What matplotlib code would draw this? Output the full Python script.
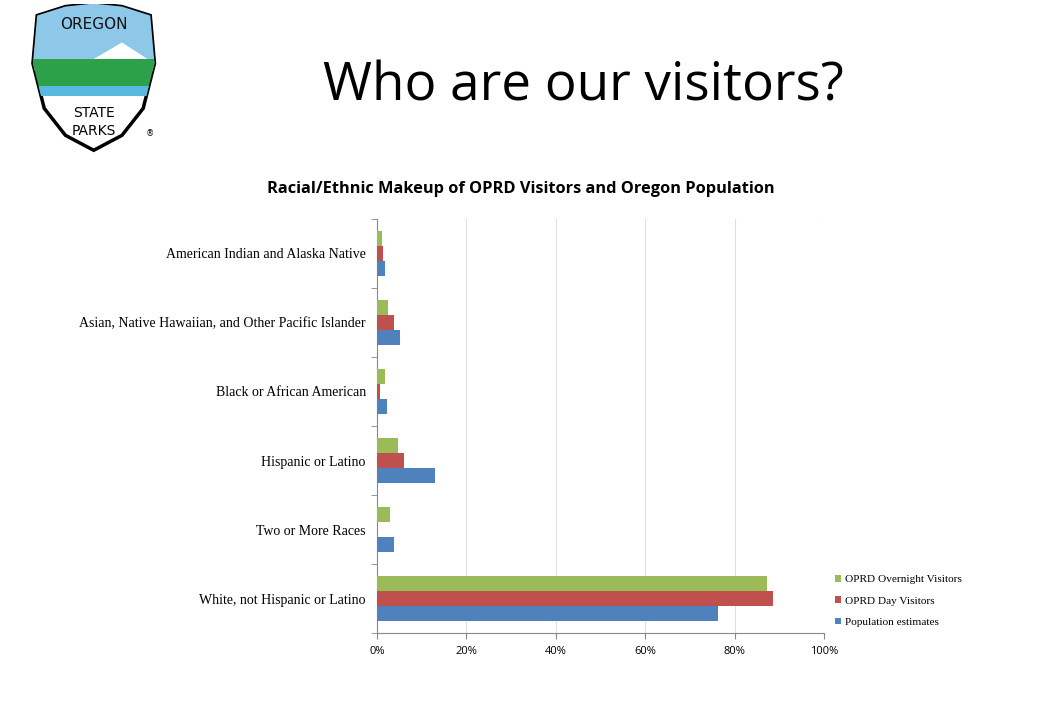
import numpy as np
import matplotlib
matplotlib.use("Agg")
import matplotlib.pyplot as plt
from matplotlib.patches import Polygon, Rectangle

categories = ["American Indian and Alaska Native",
              "Asian, Native Hawaiian, and Other Pacific Islander",
              "Black or African American",
              "Hispanic or Latino",
              "Two or More Races",
              "White, not Hispanic or Latino"]
overnight = [1.1, 2.5, 1.9, 4.8, 2.9, 87.3]   # OPRD Overnight Visitors
day = [1.4, 3.8, 0.8, 6.0, 0.0, 88.6]         # OPRD Day Visitors
population = [1.8, 5.1, 2.2, 13.1, 3.8, 76.2]  # Population estimates
xticks = [0, 20, 40, 60, 80, 100]

green = "#9BBB59"
red = "#C0504D"
blue = "#4F81BD"

fig = plt.figure(figsize=(10.47, 7.13), dpi=100)

# slide title
fig.text(0.557, 0.878, "Who are our visitors?", fontsize=38.2, family="Open Sans",
         ha="center", va="center", color="black")
# chart title
fig.text(0.497, 0.735, "Racial/Ethnic Makeup of OPRD Visitors and Oregon Population",
         fontsize=11.8, family="Open Sans", weight="bold", ha="center", va="center")

# chart
ax = fig.add_axes([0.360, 0.112, 0.427, 0.581])
y = np.arange(len(categories))
h = 0.217
ax.barh(y - h, overnight, height=h, color=green, label="OPRD Overnight Visitors", zorder=3)
ax.barh(y, day, height=h, color=red, label="OPRD Day Visitors", zorder=3)
ax.barh(y + h, population, height=h, color=blue, label="Population estimates", zorder=3)

ax.set_ylim(len(categories) - 0.5, -0.5)
ax.set_xlim(0, 100)
ax.set_yticks(y)
ax.set_yticklabels(categories, family="Liberation Serif", fontsize=10)
ax.set_yticks(np.arange(-0.5, len(categories)), minor=True)
ax.tick_params(axis="y", which="major", length=0, pad=8)
ax.tick_params(axis="y", which="minor", length=4, color="#888888")
ax.set_xticks(xticks)
ax.set_xticklabels([f"{v}%" for v in xticks], family="Open Sans", fontsize=8)
ax.tick_params(axis="x", length=4, color="#888888", pad=5)
ax.grid(axis="x", color="#E0E0E0", linewidth=0.8, zorder=0)
for s in ["top", "right"]:
    ax.spines[s].set_visible(False)
for s in ["left", "bottom"]:
    ax.spines[s].set_color("#888888")

leg = fig.legend(loc="upper left", bbox_to_anchor=(0.788, 0.208), frameon=False,
                 prop={"family": "Liberation Serif", "size": 8.1},
                 handlelength=0.55, handleheight=0.55, handletextpad=0.3,
                 labelspacing=1.07)

# simple logo
lax = fig.add_axes([0.022, 0.785, 0.135, 0.21])
lax.set_xlim(0, 1)
lax.set_ylim(0, 1)
lax.axis("off")
shield = [(0.1, 0.92), (0.3, 0.98), (0.5, 1.0), (0.7, 0.98), (0.9, 0.92),
          (0.93, 0.6), (0.85, 0.3), (0.7, 0.12), (0.5, 0.02), (0.3, 0.12),
          (0.15, 0.3), (0.07, 0.6)]
outer = Polygon(shield, closed=True, facecolor="white", edgecolor="black", linewidth=2.5)
lax.add_patch(outer)
sky = Rectangle((0, 0.55), 1, 0.45, facecolor="#8EC8E8", edgecolor="none")
sky.set_clip_path(outer)
lax.add_patch(sky)
land = Rectangle((0, 0.38), 1, 0.25, facecolor="#2DA04A", edgecolor="none")
land.set_clip_path(outer)
lax.add_patch(land)
water = Rectangle((0, 0.38), 1, 0.07, facecolor="#5BB8E0", edgecolor="none")
water.set_clip_path(outer)
lax.add_patch(water)
mtn = Polygon([(0.5, 0.63), (0.7, 0.74), (0.88, 0.63)], closed=True,
              facecolor="white", edgecolor="none")
lax.add_patch(mtn)
lax.text(0.5, 0.86, "OREGON", ha="center", va="center", fontsize=11,
         family="DejaVu Sans", color="#111111")
lax.text(0.5, 0.27, "STATE", ha="center", va="center", fontsize=10, family="DejaVu Sans")
lax.text(0.5, 0.15, "PARKS", ha="center", va="center", fontsize=10, family="DejaVu Sans")
lax.text(0.9, 0.13, "®", ha="center", va="center", fontsize=6, family="DejaVu Sans")

fig.savefig("out.png", dpi=100)
